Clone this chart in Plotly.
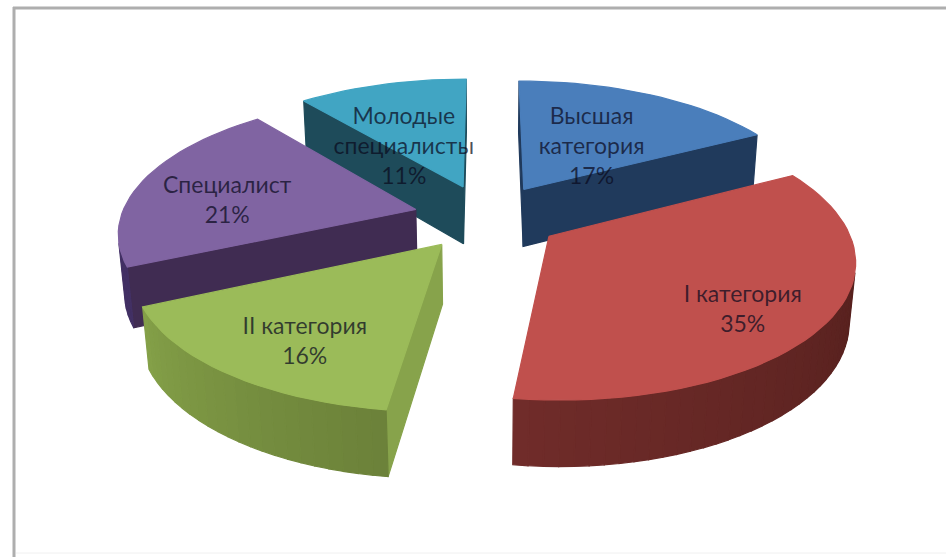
import numpy as np
import plotly.graph_objects as go

categories = ["Высшая<br>категория", "I категория", "II категория", "Специалист", "Молодые<br>специалисты"]
values = [17.2, 34.9, 16.1, 20.9, 10.9]
percent_labels = ["17%", "35%", "16%", "21%", "11%"]

top_colors = ["#4a7ebb", "#c0504d", "#9bbb59", "#8064a2", "#41a5c3"]
arc_colors = [
    ((32, 58, 92), (32, 58, 92)),
    ((75, 28, 25), (112, 44, 42)),
    ((108, 130, 58), (132, 160, 72)),
    ((66, 48, 100), (66, 48, 100)),
    ((30, 75, 90), (30, 75, 90)),
]
cut_colors = ["#203a5c", "#78302c", "#87a34b", "#402c52", "#1e4b5a"]

CX, CY = 487, 217
ELEV = np.radians(26.7)
DIST = 5.9
FOCAL = 1740
THICK = 0.225
EXPLODE = 0.25
LABEL_R = [0.43, 0.764, 0.742, 0.655, 0.394]
LABEL_DA = [5.6, 6.2, -4.7, -8.2, -14.7]


def project(u, v, z):
    x = u
    y = z * np.cos(ELEV) - v * np.sin(ELEV)
    d = DIST - v * np.cos(ELEV) - z * np.sin(ELEV)
    return CX + FOCAL * x / d, CY - FOCAL * y / d


def shoelace(xs, ys):
    return sum(xs[i] * ys[(i + 1) % len(xs)] - xs[(i + 1) % len(xs)] * ys[i] for i in range(len(xs))) / 2


def poly(fig, xs, ys, color):
    fig.add_trace(go.Scatter(
        x=list(xs) + [xs[0]], y=list(ys) + [ys[0]], mode="lines", fill="toself",
        fillcolor=color, line=dict(color=color, width=1.2),
        hoverinfo="skip", showlegend=False))


fig = go.Figure()
edges = np.cumsum([0] + values) / sum(values) * 2 * np.pi
slices = []
for i in range(len(values)):
    a0, a1 = edges[i], edges[i + 1]
    mid = (a0 + a1) / 2
    slices.append((-np.cos(mid), i, a0, a1, mid))

label_x, label_y, label_t = [], [], []
for depth, i, a0, a1, mid in sorted(slices):
    ou, ov = EXPLODE * np.sin(mid), -EXPLODE * np.cos(mid)
    arc = np.linspace(a0, a1, max(4, int(np.degrees(a1 - a0) / 2.5) + 1))
    bu = [ou] + list(ou + np.sin(arc)) + [ou]
    bv = [ov] + list(ov - np.cos(arc)) + [ov]
    n = len(bu) - 1
    for k in range(n):
        p = project(np.array([bu[k], bu[k + 1], bu[k + 1], bu[k]]),
                    np.array([bv[k], bv[k + 1], bv[k + 1], bv[k]]),
                    np.array([0, 0, -THICK, -THICK]))
        if shoelace(p[0], p[1]) < 0:
            if k == 0 or k == n - 1:
                col = cut_colors[i]
            else:
                t = (k - 1) / max(1, n - 3)
                c0, c1 = arc_colors[i]
                col = "rgb(%d,%d,%d)" % tuple(c0[j] + (c1[j] - c0[j]) * t for j in range(3))
            poly(fig, p[0], p[1], col)
    tx, ty = project(np.array(bu[:-1]), np.array(bv[:-1]), 0 * np.array(bu[:-1]))
    poly(fig, tx, ty, top_colors[i])

for i in range(len(values)):
    mid = (edges[i] + edges[i + 1]) / 2
    a = mid + np.radians(LABEL_DA[i])
    ou, ov = EXPLODE * np.sin(mid), -EXPLODE * np.cos(mid)
    r = LABEL_R[i]
    lx, ly = project(ou + r * np.sin(a), ov - r * np.cos(a), 0.0)
    label_x.append(lx)
    label_y.append(ly)
    label_t.append(categories[i] + "<br>" + percent_labels[i])

fig.add_trace(go.Scatter(x=label_x, y=label_y, text=label_t, mode="text",
                         textposition="middle center",
                         textfont=dict(family="Lato", size=23, color="rgba(10,10,30,0.72)"),
                         hoverinfo="skip", showlegend=False))

frame = "#aeaeae"
fig.update_layout(
    width=946, height=557, margin=dict(l=0, r=0, t=0, b=0),
    paper_bgcolor="white", plot_bgcolor="white",
    xaxis=dict(range=[0, 946], visible=False, fixedrange=True),
    yaxis=dict(range=[557, 0], visible=False, fixedrange=True),
    shapes=[
        dict(type="line", xref="x", yref="y", x0=14, x1=14, y0=7, y1=557, line=dict(color=frame, width=3)),
        dict(type="line", xref="x", yref="y", x0=13, x1=946, y0=8, y1=8, line=dict(color=frame, width=3)),
        dict(type="line", xref="x", yref="y", x0=16, x1=946, y0=553, y1=553, line=dict(color="#f0f0f0", width=1)),
    ],
)
fig.write_html("out.html", post_script="document.body.style.margin='0';", config=dict(displayModeBar=False))
